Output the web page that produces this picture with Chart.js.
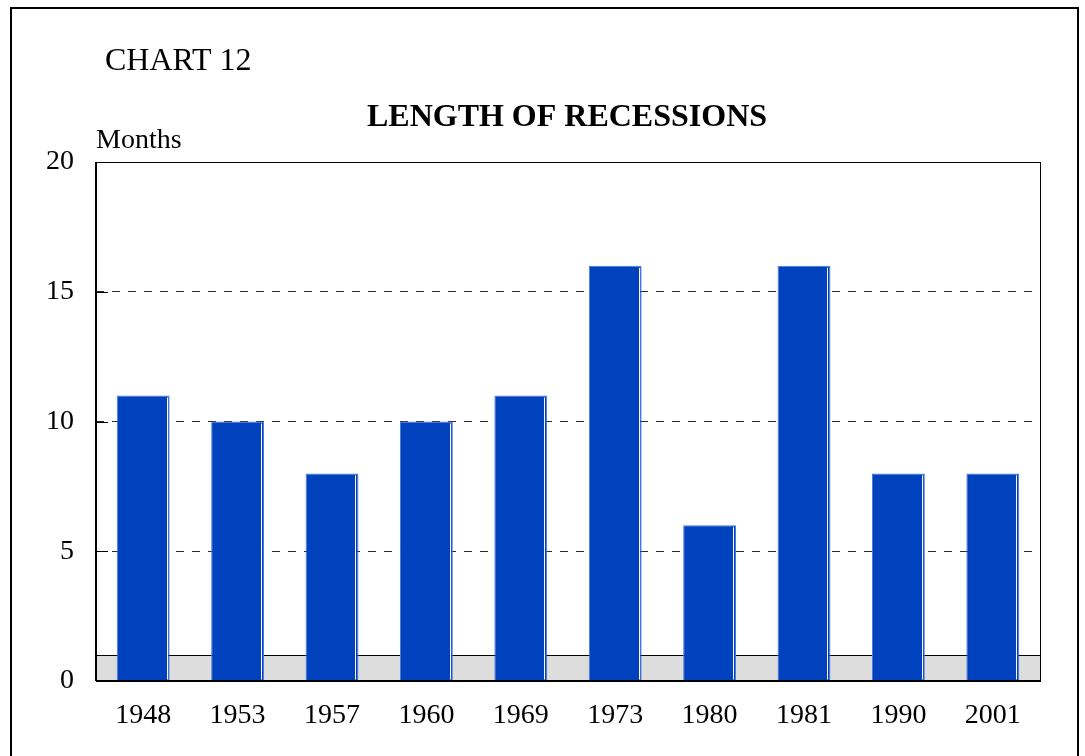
<!DOCTYPE html>
<html>
<head>
<meta charset="utf-8">
<script src="https://cdn.jsdelivr.net/npm/chart.js@4/dist/chart.umd.min.js"></script>
<style>
    html, body { margin: 0; padding: 0; background: #fff; }
    #wrap { width: 1085px; height: 756px; }
</style>
</head>
<body>
<div id="wrap"><canvas id="myChart" width="1085" height="756"></canvas></div>
<script>
var years = ['1948', '1953', '1957', '1960', '1969', '1973', '1980', '1981', '1990', '2001'];
var months = [11, 10, 8, 10, 11, 16, 6, 16, 8, 8];
var y_ticks = [0, 5, 10, 15, 20];
var shade_top = 1;   // grey band along the bottom, in months

var font_family = "'Liberation Serif', 'Times New Roman', serif";
var bar_blue = '#0041be';

// frame, heading texts, grey band and white highlight on the bars
var decor = {
    id: 'decor',
    beforeDatasetsDraw: function (chart) {
        var ctx = chart.ctx;
        var a = chart.chartArea;
        var y = chart.scales.y;
        var yTop = y.getPixelForValue(shade_top);
        ctx.save();
        ctx.fillStyle = '#dddddd';
        ctx.fillRect(a.left, yTop, a.right - a.left, a.bottom - yTop);
        ctx.strokeStyle = '#000';
        ctx.lineWidth = 1;
        ctx.beginPath();
        ctx.moveTo(a.left, Math.round(yTop) + 0.5);
        ctx.lineTo(a.right, Math.round(yTop) + 0.5);
        // short solid ticks inside the left axis
        y_ticks.forEach(function (v) {
            var py = Math.round(y.getPixelForValue(v)) + 0.5;
            ctx.moveTo(a.left, py);
            ctx.lineTo(a.left + 12, py);
        });
        ctx.stroke();
        ctx.restore();
    },
    afterDatasetsDraw: function (chart) {
        var ctx = chart.ctx;
        var a = chart.chartArea;
        ctx.save();
        // white streak near the right side of each bar
        ctx.strokeStyle = '#ffffff';
        ctx.lineWidth = 1;
        chart.getDatasetMeta(0).data.forEach(function (bar) {
            var xr = Math.round(bar.x + bar.width / 2) - 2.5;
            ctx.beginPath();
            ctx.moveTo(xr, bar.y + 2);
            ctx.lineTo(xr, bar.base - 1);
            ctx.stroke();
        });
        // plot box
        ctx.strokeStyle = '#000';
        ctx.lineWidth = 1;
        ctx.strokeRect(Math.round(a.left) + 0.5, Math.round(a.top) + 0.5, a.right - a.left, a.bottom - a.top);
        ctx.lineWidth = 2;
        ctx.beginPath();
        ctx.moveTo(a.left, Math.round(a.bottom));
        ctx.lineTo(a.right, Math.round(a.bottom));
        ctx.moveTo(Math.round(a.left), a.top);
        ctx.lineTo(Math.round(a.left), a.bottom);
        ctx.stroke();
        // outer frame
        ctx.lineWidth = 2;
        ctx.strokeRect(11, 8, 1067, 780);
        // texts
        ctx.fillStyle = '#000';
        ctx.textBaseline = 'alphabetic';
        ctx.textAlign = 'left';
        ctx.font = '32px ' + font_family;
        ctx.fillText('CHART 12', 105, 70);
        ctx.font = '28px ' + font_family;
        ctx.fillText('Months', 96, 148);
        ctx.textAlign = 'center';
        ctx.font = 'bold 32px ' + font_family;
        ctx.fillText('LENGTH OF RECESSIONS', 567, 126);
        ctx.restore();
    }
};

function chart_recessions() {
    var ctx = document.getElementById('myChart').getContext('2d');
    var chartConfig = {
        type: 'bar',
        data: {
            labels: years,
            datasets: [{
                label: 'Months',
                data: months,
                backgroundColor: bar_blue,
                borderColor: '#4a7ad8',
                borderWidth: 1,
                barPercentage: 0.56,
                categoryPercentage: 1
            }]
        },
        options: {
            responsive: false,
            animation: false,
            layout: {
                padding: { left: 0, right: 45, top: 162, bottom: 0 }
            },
            scales: {
                x: {
                    afterFit: function (s) { s.height = 75; },
                    grid: { display: false, drawTicks: false },
                    border: { display: false },
                    ticks: {
                        color: '#000',
                        padding: 18,
                        font: { family: font_family, size: 28 }
                    }
                },
                y: {
                    min: 0,
                    max: 20,
                    afterFit: function (s) { s.width = 96; },
                    afterBuildTicks: function (s) {
                        s.ticks = y_ticks.map(function (v) { return { value: v }; });
                    },
                    grid: {
                        drawTicks: false,
                        color: function (c) {
                            var v = c.tick ? c.tick.value : null;
                            return (v === 0 || v === 20) ? 'rgba(0,0,0,0)' : '#2a2a2a';
                        },
                        lineWidth: 1
                    },
                    border: { display: false, dash: [8, 8] },
                    ticks: {
                        color: '#000',
                        padding: 22,
                        font: { family: font_family, size: 28 }
                    }
                }
            },
            plugins: {
                legend: { display: false },
                title: { display: false },
                tooltip: { enabled: false }
            }
        },
        plugins: [decor]
    };
    return new Chart(ctx, chartConfig);
}

var chart = chart_recessions();
</script>
</body>
</html>
